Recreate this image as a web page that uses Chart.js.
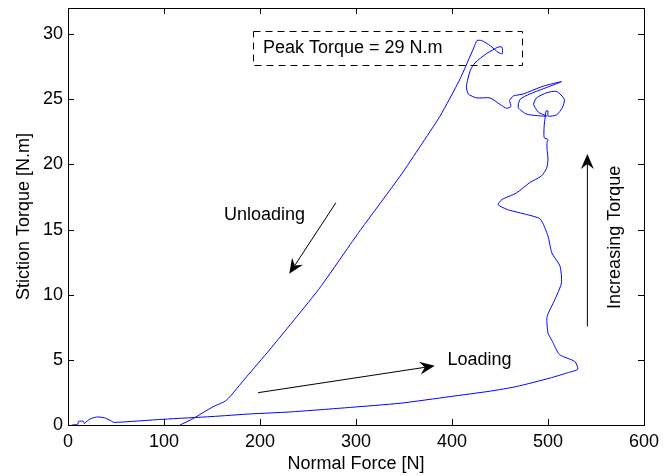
<!DOCTYPE html>
<html>
<head>
<meta charset="utf-8">
<script src="https://cdn.jsdelivr.net/npm/chart.js@4/dist/chart.umd.min.js"></script>
<style>
  body { margin: 0; background: #fff; }
  canvas { display: block; }
</style>
</head>
<body>
<canvas id="chart" width="669" height="476"></canvas>
<script>
'use strict';

// normal force [N] and stiction torque [N.m], in the order the test ran
// (loading along the bottom, climb, loops at the top, then unloading)
let forceN = [4, 10, 11, 16, 17, 19, 24, 31, 38, 44, 48, 99, 150, 190, 231, 294, 346, 398, 440, 467, 502, 520, 531,
  528, 512, 504, 500, 499, 507, 514, 512.5, 504, 500, 492, 478, 459, 448, 452, 467, 481, 493, 498.6, 500, 499, 499,
  500, 496, 496, 497, 498, 500, 500, 509, 515, 517, 509, 498.6, 488, 485, 490, 498.6,
  478, 469, 471, 481, 495, 514, 495, 474, 464, 460, 461.5, 457, 450, 439.6, 425.7, 417, 415, 419, 424, 436, 448,
  452, 452.5, 448, 440, 431, 426, 423,
  408, 387.5, 367, 346, 305, 294, 261, 210, 186, 165, 151, 130.5, 116.7];
let torqueNm = [0, 0.05, 0.28, 0.28, 0.1, 0.25, 0.5, 0.62, 0.55, 0.35, 0.2, 0.44, 0.65, 0.85, 1.0, 1.35, 1.67, 2.18, 2.6, 2.95, 3.6, 4.0, 4.28,
  4.87, 5.4, 6.5, 7.05, 8.3, 9.6, 10.9, 12.2, 13.2, 14.5, 15.8, 16.15, 16.5, 16.9, 17.3, 17.8, 18.6, 19.1, 19.7, 20.4, 21.15, 21.7,
  21.9, 22.05, 22.95, 23.6, 24.1, 24.1, 23.7, 23.8, 24.35, 25.0, 25.6, 25.5, 25.1, 24.6, 24.0, 23.7,
  23.85, 24.35, 25.0, 25.4, 25.8, 26.35, 26.0, 25.4, 25.25, 24.9, 24.45, 24.3, 24.6, 25.1, 25.1, 25.4, 26.0, 27.2, 27.8, 28.5, 29.0,
  29.0, 28.5, 28.6, 29.1, 29.5, 29.5, 29.0,
  26.5, 23.7, 21.4, 19.1, 15.0, 13.85, 10.4, 5.77, 3.7, 1.9, 1.4, 0.5, 0];

let xTicks = [0, 100, 200, 300, 400, 500, 600];
let yTicks = [0, 5, 10, 15, 20, 25, 30];

const FONT = { family: "'Liberation Sans', Arial, Helvetica, sans-serif", size: 18 };
const FONT_STR = "18px 'Liberation Sans', Arial, Helvetica, sans-serif";

let points = [];
for (let i = 0; i < forceN.length; i++) {
  points.push({ x: forceN[i], y: torqueNm[i] });
}

// matlab style arrow: thin shaft, notched filled head
function drawArrow(ctx, x1, y1, x2, y2) {
  let ang = Math.atan2(y2 - y1, x2 - x1);
  let len = 15, half = 6.5, notch = 10;
  ctx.save();
  ctx.strokeStyle = '#000';
  ctx.fillStyle = '#000';
  ctx.lineWidth = 1;
  ctx.beginPath();
  ctx.moveTo(x1, y1);
  ctx.lineTo(x2 - Math.cos(ang) * notch, y2 - Math.sin(ang) * notch);
  ctx.stroke();
  ctx.translate(x2, y2);
  ctx.rotate(ang);
  ctx.beginPath();
  ctx.moveTo(0, 0);
  ctx.lineTo(-len, -half);
  ctx.lineTo(-notch, 0);
  ctx.lineTo(-len, half);
  ctx.closePath();
  ctx.fill();
  ctx.restore();
}

const frameAndNotes = {
  id: 'frameAndNotes',
  afterDatasetsDraw(chart) {
    const ctx = chart.ctx;
    const xs = chart.scales.x, ys = chart.scales.y;
    const a = chart.chartArea;
    const px = v => xs.getPixelForValue(v);
    const py = v => ys.getPixelForValue(v);

    ctx.save();
    // box + inward ticks on all four sides
    ctx.strokeStyle = '#000';
    ctx.lineWidth = 1;
    ctx.strokeRect(Math.round(a.left) + 0.5, Math.round(a.top) + 0.5,
      Math.round(a.right - a.left), Math.round(a.bottom - a.top));
    ctx.beginPath();
    xs.ticks.forEach(t => {
      let x = Math.round(px(t.value)) + 0.5;
      ctx.moveTo(x, a.bottom); ctx.lineTo(x, a.bottom - 6);
      ctx.moveTo(x, a.top); ctx.lineTo(x, a.top + 6);
    });
    ys.ticks.forEach(t => {
      let y = Math.round(py(t.value)) + 0.5;
      ctx.moveTo(a.left, y); ctx.lineTo(a.left + 6, y);
      ctx.moveTo(a.right, y); ctx.lineTo(a.right - 6, y);
    });
    ctx.stroke();

    // dashed box around the peak label
    ctx.setLineDash([7, 5]);
    let bx = px(193), by = py(30.2);
    ctx.strokeRect(Math.round(bx) + 0.5, Math.round(by) + 0.5,
      Math.round(px(473) - bx), Math.round(py(27.6) - by));
    ctx.setLineDash([]);

    ctx.fillStyle = '#000';
    ctx.font = FONT_STR;
    ctx.textBaseline = 'middle';
    ctx.textAlign = 'left';
    ctx.fillText('Peak Torque = 29 N.m', px(203), py(28.9));
    ctx.textAlign = 'center';
    ctx.fillText('Unloading', px(204.7), py(16.1));
    ctx.fillText('Loading', px(428.6), py(5.0));

    ctx.save();
    ctx.translate(px(570), py(14.4));
    ctx.rotate(-Math.PI / 2);
    ctx.fillText('Increasing Torque', 0, 0);
    ctx.restore();

    drawArrow(ctx, px(279), py(17.05), px(230.5), py(11.6));
    drawArrow(ctx, px(198), py(2.48), px(382), py(4.54));
    drawArrow(ctx, px(541), py(7.56), px(541), py(20.8));
    ctx.restore();
  }
};

const ctx = document.getElementById('chart').getContext('2d');
const myChart = new Chart(ctx, {
  type: 'scatter',
  data: {
    datasets: [{
      label: 'Stiction torque',
      data: points,
      showLine: true,
      borderColor: '#0000ff',
      borderWidth: 1,
      pointRadius: 0,
      tension: 0.2
    }]
  },
  options: {
    responsive: false,
    animation: false,
    layout: { padding: { top: 8, right: 25, left: 0, bottom: 0 } },
    plugins: {
      legend: { display: false },
      tooltip: { enabled: false }
    },
    scales: {
      x: {
        type: 'linear',
        min: 0,
        max: 600,
        afterBuildTicks: s => { s.ticks = xTicks.map(v => ({ value: v })); },
        afterFit: s => { s.height = 51; s.paddingLeft = 0; s.paddingRight = 0; },
        grid: { display: false, drawTicks: false },
        border: { display: false },
        ticks: { font: FONT, color: '#000', padding: 6, maxRotation: 0 },
        title: { display: true, text: 'Normal Force [N]', font: FONT, color: '#000', padding: { top: 0, bottom: 1 } }
      },
      y: {
        type: 'linear',
        min: 0,
        max: 32,
        afterBuildTicks: s => { s.ticks = yTicks.map(v => ({ value: v })); },
        afterFit: s => { s.width = 68; s.paddingTop = 0; s.paddingBottom = 0; },
        grid: { display: false, drawTicks: false },
        border: { display: false },
        ticks: { font: FONT, color: '#000', padding: 5 },
        title: { display: true, text: 'Stiction Torque [N.m]', font: FONT, color: '#000', padding: { top: 13, bottom: 0 } }
      }
    }
  },
  plugins: [frameAndNotes]
});
</script>
</body>
</html>
